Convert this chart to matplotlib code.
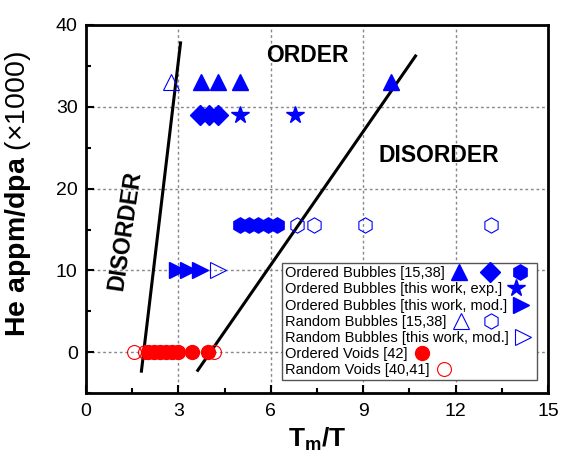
import numpy as np
import matplotlib.pyplot as plt
from matplotlib.legend_handler import HandlerTuple

# Ordered bubbles [15,38]
tri_x = [3.75, 4.3, 5.0, 9.9]
tri_y = [33, 33, 33, 33]
dia_x = [3.7, 4.0, 4.3]
dia_y = [29, 29, 29]
hex_x = [5.0, 5.3, 5.6, 5.9, 6.2]
hex_y = [15.5, 15.5, 15.5, 15.5, 15.5]
# this work, exp.
star_x = [5.0, 6.8]
star_y = [29, 29]
# this work, mod.
rtri_x = [2.95, 3.3, 3.7]
rtri_y = [10, 10, 10]
# random bubbles [15,38]
otri_x = [2.75]
otri_y = [33]
ohex_x = [6.85, 7.4, 9.05, 13.15]
ohex_y = [15.5, 15.5, 15.5, 15.5]
# random bubbles, this work, mod.
ortri_x = [4.3]
ortri_y = [10]
# voids
void_x = [2.0, 2.2, 2.4, 2.6, 2.8, 3.0, 3.45, 3.95]
void_y = [0, 0, 0, 0, 0, 0, 0, 0]
ovoid_x = [1.55, 1.9, 4.15]
ovoid_y = [0, 0, 0]
# boundary lines
line1_x = [1.8, 3.07]
line1_y = [-2.3, 37.8]
line2_x = [3.63, 10.7]
line2_y = [-2.2, 36.2]


class WideTuple(HandlerTuple):
    # spread the markers of a tuple over n handle widths
    def create_artists(self, legend, orig_handle, xdescent, ydescent,
                       width, height, fontsize, trans):
        n = len(orig_handle)
        w = n * width + (n - 1) * self._pad * fontsize
        return super().create_artists(legend, orig_handle, xdescent, ydescent,
                                      w, height, fontsize, trans)


plt.rcParams['font.family'] = 'Liberation Sans'
plt.rcParams['mathtext.fontset'] = 'custom'
plt.rcParams['mathtext.rm'] = 'Liberation Sans'
plt.rcParams['mathtext.bf'] = 'Liberation Sans:bold'
plt.rcParams['mathtext.it'] = 'Liberation Sans:italic'

fig = plt.figure(figsize=(5.62, 4.61), dpi=100)
ax = fig.add_axes([0.153, 0.147, 0.822, 0.799])

blue = '#0000ff'
red = '#ff0000'

ax.plot(line1_x, line1_y, color='k', lw=2.2, zorder=3)
ax.plot(line2_x, line2_y, color='k', lw=2.2, zorder=3)

h_tri, = ax.plot(tri_x, tri_y, '^', color=blue, ms=12, ls='none', zorder=4)
h_dia, = ax.plot(dia_x, dia_y, 'D', color=blue, ms=10, ls='none', zorder=4)
h_hex, = ax.plot(hex_x, hex_y, 'h', color=blue, ms=11, ls='none', zorder=4)
h_star, = ax.plot(star_x, star_y, '*', color=blue, ms=13, ls='none', zorder=4)
h_rtri, = ax.plot(rtri_x, rtri_y, '>', color=blue, ms=11, ls='none', zorder=4)
h_otri, = ax.plot(otri_x, otri_y, '^', mfc='none', mec=blue, mew=0.8, ms=12, ls='none', zorder=4)
h_ohex, = ax.plot(ohex_x, ohex_y, 'h', mfc='none', mec=blue, mew=0.8, ms=11, ls='none', zorder=4)
h_ortri, = ax.plot(ortri_x, ortri_y, '>', mfc='none', mec=blue, mew=0.8, ms=11, ls='none', zorder=4)
h_void, = ax.plot(void_x, void_y, 'o', color=red, ms=10, ls='none', zorder=4)
h_ovoid, = ax.plot(ovoid_x, ovoid_y, 'o', mfc='none', mec=red, mew=0.8, ms=10, ls='none', zorder=4)

ax.text(7.19, 36.3, 'ORDER', fontsize=16.5, fontweight='bold', ha='center', va='center')
ax.text(11.47, 24.0, 'DISORDER', fontsize=16.5, fontweight='bold', ha='center', va='center')
ax.text(1.27, 14.9, 'DISORDER', fontsize=16.5, fontweight='bold', ha='center', va='center', rotation=81.5)

ax.set_xlim(0, 15)
ax.set_ylim(-5, 40)
ax.set_xticks([0, 3, 6, 9, 12, 15])
ax.set_yticks([0, 10, 20, 30, 40])
ax.set_xticks(np.arange(1.5, 15, 3), minor=True)
ax.set_yticks(np.arange(-5, 40, 10), minor=True)
ax.tick_params(which='both', direction='in', width=1.5, labelsize=14)
ax.tick_params(which='major', length=6)
ax.tick_params(which='minor', length=3.5)
ax.tick_params(axis='x', pad=7)
ax.tick_params(axis='y', pad=6)
for s in ax.spines.values():
    s.set_linewidth(2)
ax.grid(True, which='major', color='#888888', ls=(0, (2, 2)), lw=1)

ax.set_xlabel(r'$\mathbf{T_m}$/T', fontsize=19, fontweight='bold', labelpad=4)
ax.set_ylabel(r'$\mathbf{He\ appm/dpa}$ ($\times$1000)', fontsize=20.5, labelpad=2)
ax.yaxis.set_label_coords(-0.115, 0.54)

handles = [(h_tri, h_dia, h_hex), h_star, h_rtri, (h_otri, h_ohex), h_ortri, h_void, h_ovoid]
labels = ['Ordered Bubbles [15,38]', 'Ordered Bubbles [this work, exp.]',
          'Ordered Bubbles [this work, mod.]', 'Random Bubbles [15,38]',
          'Random Bubbles [this work, mod.]', 'Ordered Voids [42]', 'Random Voids [40,41]']
leg = ax.legend(handles, labels, loc='lower right', bbox_to_anchor=(0.976, 0.035),
                markerfirst=False, fontsize=10.5, handlelength=1.5, handletextpad=0.25,
                labelspacing=0.15, borderpad=0.2, borderaxespad=0, fancybox=False,
                framealpha=1, edgecolor='#555555',
                handler_map={tuple: WideTuple(ndivide=None, pad=0.6)})
leg.get_frame().set_linewidth(1)
# text left aligned, marker right after the text
for col in leg._legend_handle_box.get_children():
    col.align = 'left'

fig.savefig('out.png', dpi=100)
